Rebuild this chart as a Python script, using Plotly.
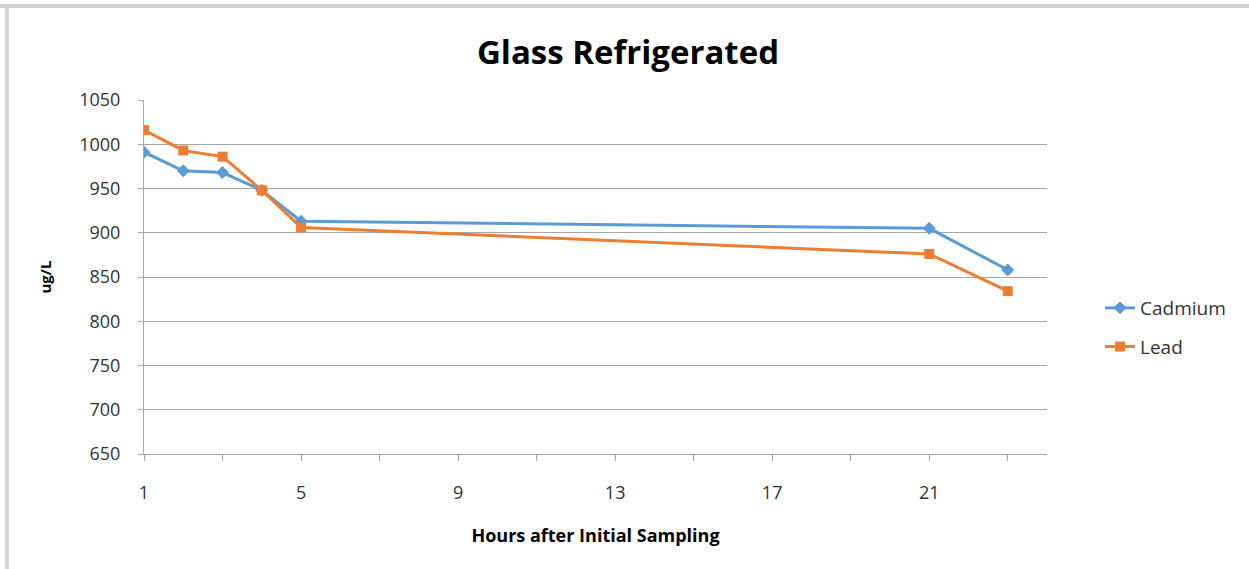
import plotly.graph_objects as go

hours = [1, 2, 3, 4, 5, 21, 23]
cadmium = [991, 970, 968, 948, 913, 905, 858]
lead = [1016, 993, 986, 948, 906, 876, 834]

x_tickvals = [1, 3, 5, 7, 9, 11, 13, 15, 17, 19, 21, 23]
x_ticktext = ["1", "", "5", "", "9", "", "13", "", "17", "", "21", ""]
y_tickvals = [650, 700, 750, 800, 850, 900, 950, 1000, 1050]

W, H = 1249, 569
L, R, T, B = 144, 202, 100, 115
pw, ph = W - L - R, H - T - B
FONT = "Open Sans, Lato, sans-serif"

def px(x):
    return (x - L) / pw

def py(y):
    return (H - B - y) / ph

fig = go.Figure()
fig.add_trace(go.Scatter(
    x=hours, y=cadmium, name="Cadmium", mode="lines+markers", legendgroup="c",
    line=dict(color="#5B9BD5", width=3),
    marker=dict(symbol="diamond", size=10, color="#5B9BD5"),
))
fig.add_trace(go.Scatter(
    x=hours, y=lead, name="Lead", mode="lines+markers", legendgroup="l",
    line=dict(color="#ED7D31", width=3),
    marker=dict(symbol="square", size=10, color="#ED7D31"),
))

fig.update_layout(
    width=W, height=H,
    margin=dict(l=L, r=R, t=T, b=B),
    paper_bgcolor="white", plot_bgcolor="white",
    font=dict(family=FONT, color="#333333"),
    title=dict(text="<b>Glass Refrigerated</b>", x=px(628), xanchor="center",
               xref="paper",
               y=1 - 52 / H, yanchor="middle",
               font=dict(size=33, color="#000000", family=FONT)),
    showlegend=True,
    legend=dict(x=px(1100), y=py(289), xanchor="left", yanchor="top",
                font=dict(size=19, color="#333333"), tracegroupgap=11,
                bgcolor="rgba(0,0,0,0)"),
    xaxis=dict(range=[1, 24], tickvals=x_tickvals, ticktext=x_ticktext,
               showgrid=False, zeroline=False,
               showline=True, linecolor="#a6a6a6", linewidth=1,
               ticks="outside", ticklen=6, tickcolor="#a6a6a6",
               ticklabelstandoff=16,
               tickfont=dict(size=18, color="#333333"),
               title=dict(text="<b>Hours after Initial Sampling</b>",
                          font=dict(size=18, color="#000000"), standoff=26)),
    yaxis=dict(range=[650, 1050], tickvals=y_tickvals,
               showgrid=True, gridcolor="#a6a6a6", gridwidth=1, zeroline=False,
               showline=True, linecolor="#a6a6a6", linewidth=1,
               ticks="outside", ticklen=5, tickcolor="#a6a6a6",
               ticklabelstandoff=14,
               tickfont=dict(size=18, color="#333333"),
               title=dict(text="<b>ug/L</b>", font=dict(size=15, color="#000000"),
                          standoff=23)),
    shapes=[
        dict(type="rect", xref="paper", yref="paper",
             x0=px(0), x1=px(W), y0=py(4), y1=py(8),
             fillcolor="#d4d4d4", line=dict(width=0), layer="above"),
        dict(type="rect", xref="paper", yref="paper",
             x0=px(5), x1=px(9), y0=py(H), y1=py(4),
             fillcolor="#d4d4d4", line=dict(width=0), layer="above"),
    ],
)

fig.write_html("out.html")
